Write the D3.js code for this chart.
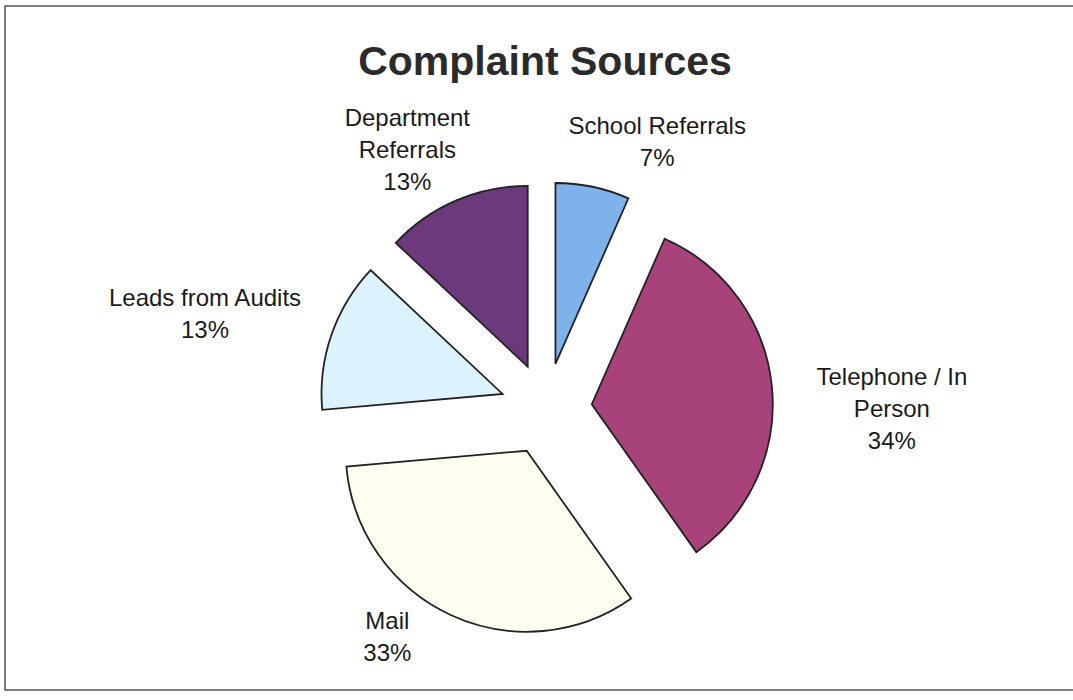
<!DOCTYPE html>
<html>
<head>
<meta charset="utf-8">
<script src="https://cdn.jsdelivr.net/npm/d3@7.9.0/dist/d3.min.js"></script>
<style>
  body { margin: 0; background: #fff; }
  text { font-family: "Liberation Sans", Arial, sans-serif; }
</style>
</head>
<body>
<div id="chart"></div>
<script>
// data (shares; labels show them rounded)
const sources = ["School Referrals", "Telephone / In Person", "Mail", "Leads from Audits", "Department Referrals"];
const labelLines = [["School Referrals"], ["Telephone / In", "Person"], ["Mail"], ["Leads from Audits"], ["Department", "Referrals"]];
const shares = [6.6, 33.6, 33.4, 13.4, 13.0];
const colors = ["#7fb2ea", "#a8427a", "#fffff0", "#dcf2fc", "#6c3a7c"];

// config
const width = 1073,
  height = 700;
const cx = 546,
  cy = 409,
  radius = 181,
  explode = 46,
  labelR = 262,
  lineH = 32;
// small hand nudges so labels sit where the original put them
const labelNudge = [[17, -11], [10, 26], [-33, -10], [0, -10], [5, -19]];

const svg = d3
  .select("#chart")
  .append("svg")
  .attr("width", width)
  .attr("height", height);

// frame
svg
  .append("rect")
  .attr("x", 5)
  .attr("y", 6)
  .attr("width", 1090)
  .attr("height", 684)
  .attr("fill", "none")
  .attr("stroke", "#555")
  .attr("stroke-width", 1.5);

svg
  .append("text")
  .attr("x", 545)
  .attr("y", 75)
  .attr("text-anchor", "middle")
  .style("font-size", "41px")
  .style("font-weight", "bold")
  .style("fill", "#2b2b2b")
  .text("Complaint Sources");

const pie = d3.pie().sort(null).value((d) => d);
const arcs = pie(shares);
const arc = d3.arc().innerRadius(0).outerRadius(radius);

const g = svg.append("g").attr("transform", `translate(${cx},${cy})`);

const mid = (d) => (d.startAngle + d.endAngle) / 2;

g.selectAll("path")
  .data(arcs)
  .join("path")
  .attr("d", arc)
  .attr("transform", (d) => {
    const a = mid(d);
    return `translate(${explode * Math.sin(a)},${-explode * Math.cos(a)})`;
  })
  .attr("fill", (d, i) => colors[i])
  .attr("stroke", "#222")
  .attr("stroke-width", 1.8)
  .attr("stroke-linejoin", "miter");

// labels (name + percent), placed outside along the mid angle
const labels = g
  .selectAll("g.label")
  .data(arcs)
  .join("g")
  .attr("class", "label");

labels.each(function (d, i) {
  const lines = labelLines[i].concat([Math.round(shares[i]) + "%"]);
  const t = d3
    .select(this)
    .append("text")
    .attr("text-anchor", "middle")
    .style("font-size", "24px")
    .style("fill", "#1a1a1a");
  lines.forEach((s, k) => {
    t.append("tspan").attr("x", 0).attr("y", k * lineH).text(s);
  });
  const bb = t.node().getBBox();
  const a = mid(d);
  const s = Math.sin(a);
  const hw = bb.width / 2;
  const x = labelR * s + Math.sign(s) * hw * Math.sqrt(Math.abs(s)) + labelNudge[i][0];
  const y = -labelR * Math.cos(a) - (bb.y + bb.height / 2) + labelNudge[i][1];
  d3.select(this).attr("transform", `translate(${x},${y})`);
});
</script>
</body>
</html>
